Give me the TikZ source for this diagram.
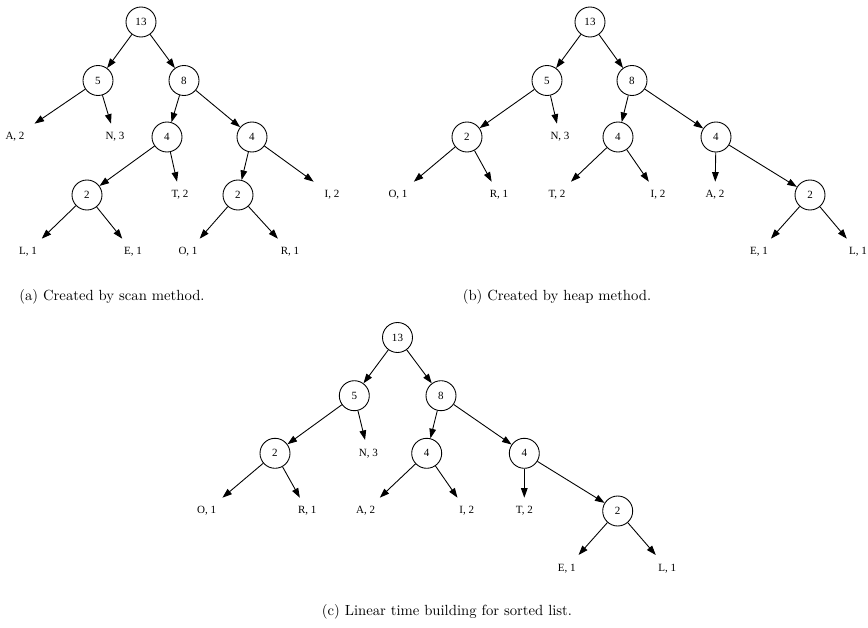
\documentclass[tikz,border=0pt]{standalone}
\usepackage{fontspec}
\usepackage{tikz}
\usetikzlibrary{arrows.meta}
\newfontfamily\treefont{Liberation Serif}
\tikzset{
    wnode/.style={draw, circle, minimum size=20.4pt, inner sep=0pt, line width=0.6pt,
        font=\treefont\fontsize{7.5}{9}\selectfont},
    leaf/.style={rectangle, minimum width=34pt, minimum height=17.7pt, inner sep=0pt,
        font=\treefont\fontsize{7.5}{9}\selectfont},
    link/.style={-{Triangle[length=6.5pt,width=4.5pt]}, line width=0.6pt},
    subcap/.style={font=\normalsize, inner sep=0pt}
}

\begin{document}
\begin{tikzpicture}[x=0.68pt, y=-0.68pt]
    \useasboundingbox (0,0) rectangle (868,628);

    % (a) scan method
    \node[wnode] (a13) at (141,22) {13};
    \node[wnode] (a5) at (98,80.5) {5}; \node[wnode] (a8) at (184,80.5) {8};
    \node[leaf] (aA) at (15,137) {A, 2}; \node[leaf] (aN) at (115,137) {N, 3};
    \node[wnode] (a4l) at (167,137) {4}; \node[wnode] (a4r) at (252,137) {4};
    \node[wnode] (a2l) at (87,195) {2}; \node[leaf] (aT) at (180,195) {T, 2};
    \node[wnode] (a2r) at (238,195) {2}; \node[leaf] (aI) at (332,195) {I, 2};
    \node[leaf] (aL) at (28,252) {L, 1}; \node[leaf] (aE) at (133,252) {E, 1};
    \node[leaf] (aO) at (188,252) {O, 1}; \node[leaf] (aR) at (290,252) {R, 1};
    \draw[link] (a13) -- (a5); \draw[link] (a13) -- (a8);
    \draw[link] (a5) -- (aA); \draw[link] (a5) -- (aN);
    \draw[link] (a8) -- (a4l); \draw[link] (a8) -- (a4r);
    \draw[link] (a4l) -- (a2l); \draw[link] (a4l) -- (aT);
    \draw[link] (a4r) -- (a2r); \draw[link] (a4r) -- (aI);
    \draw[link] (a2l) -- (aL); \draw[link] (a2l) -- (aE);
    \draw[link] (a2r) -- (aO); \draw[link] (a2r) -- (aR);
    \node[subcap] (capa) at (112,297) {(a) Created by scan method.};

    % (b) heap method
    \node[wnode] (b13) at (590,22) {13};
    \node[wnode] (b5) at (547,80.5) {5}; \node[wnode] (b8) at (632,80.5) {8};
    \node[wnode] (b2l) at (467,137) {2}; \node[leaf] (bN) at (560,137) {N, 3};
    \node[wnode] (b4l) at (618,137) {4}; \node[wnode] (b4r) at (716,137) {4};
    \node[leaf] (bO) at (398,195) {O, 1}; \node[leaf] (bR) at (499,195) {R, 1};
    \node[leaf] (bT) at (557,195) {T, 2}; \node[leaf] (bI) at (658,195) {I, 2};
    \node[leaf] (bA) at (715,195) {A, 2}; \node[wnode] (b2r) at (810,195) {2};
    \node[leaf] (bE) at (759,252) {E, 1}; \node[leaf] (bL) at (858,252) {L, 1};
    \draw[link] (b13) -- (b5); \draw[link] (b13) -- (b8);
    \draw[link] (b5) -- (b2l); \draw[link] (b5) -- (bN);
    \draw[link] (b8) -- (b4l); \draw[link] (b8) -- (b4r);
    \draw[link] (b2l) -- (bO); \draw[link] (b2l) -- (bR);
    \draw[link] (b4l) -- (bT); \draw[link] (b4l) -- (bI);
    \draw[link] (b4r) -- (bA); \draw[link] (b4r) -- (b2r);
    \draw[link] (b2r) -- (bE); \draw[link] (b2r) -- (bL);
    \node[subcap] (capb) at (557,297) {(b) Created by heap method.};

    % (c) sorted list
    \node[wnode] (c13) at (397.5,337.5) {13};
    \node[wnode] (c5) at (354.3,395.7) {5}; \node[wnode] (c8) at (441,395.7) {8};
    \node[wnode] (c2l) at (275,453.3) {2}; \node[leaf] (cN) at (368.3,453.3) {N, 3};
    \node[wnode] (c4l) at (426.7,453.3) {4}; \node[wnode] (c4r) at (524.3,453.3) {4};
    \node[leaf] (cO) at (206.7,511) {O, 1}; \node[leaf] (cR) at (307.3,511) {R, 1};
    \node[leaf] (cA) at (365.7,511) {A, 2}; \node[leaf] (cI) at (466.7,511) {I, 2};
    \node[leaf] (cT) at (524.3,511) {T, 2}; \node[wnode] (c2r) at (617.7,511) {2};
    \node[leaf] (cE) at (566.7,568.3) {E, 1}; \node[leaf] (cL) at (667.3,568.3) {L, 1};
    \draw[link] (c13) -- (c5); \draw[link] (c13) -- (c8);
    \draw[link] (c5) -- (c2l); \draw[link] (c5) -- (cN);
    \draw[link] (c8) -- (c4l); \draw[link] (c8) -- (c4r);
    \draw[link] (c2l) -- (cO); \draw[link] (c2l) -- (cR);
    \draw[link] (c4l) -- (cA); \draw[link] (c4l) -- (cI);
    \draw[link] (c4r) -- (cT); \draw[link] (c4r) -- (c2r);
    \draw[link] (c2r) -- (cE); \draw[link] (c2r) -- (cL);
    \node[subcap] (capc) at (447,612) {(c) Linear time building for sorted list.};
\end{tikzpicture}
\end{document}
